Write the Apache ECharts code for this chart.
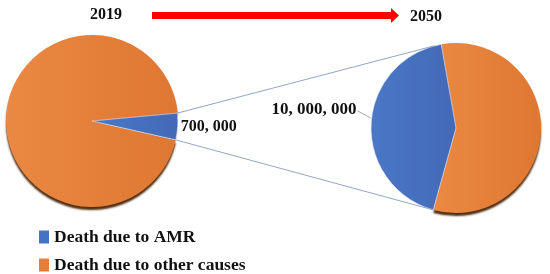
<!DOCTYPE html>
<html>
<head>
<meta charset="utf-8">
<script src="https://cdn.jsdelivr.net/npm/echarts@6/dist/echarts.min.js"></script>
<style>html,body{margin:0;padding:0;background:#fff}#c{width:550px;height:274px}</style>
</head>
<body>
<div id="c"></div>
<script>
// ---- data ----
const years = ['2019', '2050'];
const categories = ['Death due to AMR', 'Death due to other causes'];
const amrDeaths = [700000, 10000000];
const otherDeaths = [13300000, 13300000];

const FONT = '"Liberation Serif", "Times New Roman", serif';
const BLUE = '#4472C4';
const ORANGE = '#E57E38';
const orangeGrad = {type:'linear', x:0, y:0, x2:1, y2:0, colorStops:[{offset:0,color:'#EA8943'},{offset:1,color:'#DE7731'}]};
const blueGrad = {type:'linear', x:0, y:0, x2:1, y2:0, colorStops:[{offset:0,color:'#4A78C6'},{offset:1,color:'#4369B8'}]};

function fmt(v){ return v.toLocaleString('en-US').replace(/,/g, ', '); }

const L = {c:[92,121], r:86, amrTop:5.3};
const R = {c:[456,128], r:85, amrBottomStart:100};

function pieData(i){
  return [
    {name: categories[1], value: otherDeaths[i], itemStyle:{color: orangeGrad, shadowColor:'rgba(70,35,5,0.95)', shadowBlur:2, shadowOffsetY:3}, label:{show:false}, labelLine:{show:false}},
    {name: categories[0], value: amrDeaths[i], itemStyle:{color: blueGrad, borderColor:'rgba(235,235,240,0.8)', borderWidth:0.8}}
  ];
}

const leftSpan = 360 * amrDeaths[0] / (amrDeaths[0] + otherDeaths[0]);
const leftStart = L.amrTop + 360 - leftSpan;
const rightSpan = 360 * amrDeaths[1] / (amrDeaths[1] + otherDeaths[1]);
const rightMid = R.amrBottomStart + rightSpan / 2; // math angle of AMR slice middle

const chart = echarts.init(document.getElementById('c'));

function rad(a){return a*Math.PI/180;}
const pTop = [L.c[0] + L.r*Math.cos(rad(L.amrTop)), L.c[1] - L.r*Math.sin(rad(L.amrTop))];
const pBot = [L.c[0] + L.r*Math.cos(rad(L.amrTop - leftSpan)), L.c[1] - L.r*Math.sin(rad(L.amrTop - leftSpan))];
function tangent(P, upper){
  const dx = P[0]-R.c[0], dy = P[1]-R.c[1];
  const d = Math.hypot(dx,dy);
  const phi = Math.atan2(dy,dx);
  const a = Math.acos(R.r/d);
  const t1 = [R.c[0]+R.r*Math.cos(phi+a), R.c[1]+R.r*Math.sin(phi+a)];
  const t2 = [R.c[0]+R.r*Math.cos(phi-a), R.c[1]+R.r*Math.sin(phi-a)];
  if (upper) return t1[1] < t2[1] ? t1 : t2;
  return t1[1] > t2[1] ? t1 : t2;
}
const tTop = tangent(pTop, true);
const tBot = tangent(pBot, false);
const edgeA = rightMid - 4;
const leadEdge = [R.c[0] + (R.r+1)*Math.cos(rad(edgeA)), R.c[1] - (R.r+1)*Math.sin(rad(edgeA))];
const leadEnd = [leadEdge[0] - 13, leadEdge[1] - 7];

const legendBase = {
  left: 39, itemWidth: 10, itemHeight: 13, icon: 'rect', selectedMode: false, itemGap: 0,
  textStyle: {fontFamily: FONT, fontWeight: 'bold', fontSize: 17.5, color: '#111'}, padding: 0
};

chart.setOption({
  animation: false,
  legend: [
    Object.assign({}, legendBase, {top: 228, data: [{name: categories[0], itemStyle:{color: BLUE, borderWidth: 0, shadowBlur: 0}}]}),
    Object.assign({}, legendBase, {top: 256, data: [{name: categories[1], itemStyle:{color: ORANGE, borderWidth: 0, shadowBlur: 0, shadowOffsetY: 0}}]})
  ],
  graphic: [
    {type:'text', left: 90, top: 7, style:{text: years[0], font: 'bold 16px ' + FONT, fill:'#111'}},
    {type:'text', left: 410, top: 9, style:{text: years[1], font: 'bold 16px ' + FONT, fill:'#111'}},
    {type:'polygon', shape:{points:[[152,12],[391,12],[391,8],[399,15.5],[391,23],[391,19],[152,19]]}, style:{fill:'#FF0000'}},
    {type:'line', shape:{x1:pTop[0], y1:pTop[1], x2:tTop[0], y2:tTop[1]}, style:{stroke:'#8FA8C6', lineWidth:1}, z: 10},
    {type:'line', shape:{x1:pBot[0], y1:pBot[1], x2:tBot[0], y2:tBot[1]}, style:{stroke:'#8FA8C6', lineWidth:1}, z: 10},
    {type:'line', shape:{x1:leadEdge[0], y1:leadEdge[1], x2:leadEnd[0], y2:leadEnd[1]}, style:{stroke:'#A8A8A8', lineWidth:1}, z: 10},
    {type:'text', z: 10, style:{text: fmt(amrDeaths[1]), x: leadEnd[0] - 1, y: leadEnd[1] - 1, align:'right', verticalAlign:'middle', font:'bold 17px ' + FONT, fill:'#111'}}
  ],
  series: [
    {
      type: 'pie', center: L.c, radius: L.r, startAngle: leftStart, clockwise: true,
      silent: true,
      data: pieData(0),
      label: {show: true, position: 'outside', formatter: p => fmt(p.value), fontFamily: FONT, fontWeight:'bold', fontSize: 16, color:'#111', distanceToLabelLine: 0},
      labelLine: {show: false, length: 3, length2: 0},
      itemStyle: {borderWidth: 0}
    },
    {
      type: 'pie', center: R.c, radius: R.r, startAngle: R.amrBottomStart, clockwise: true,
      silent: true,
      data: pieData(1),
      label: {show: false},
      labelLine: {show: false}
    }
  ]
});
</script>
</body>
</html>
